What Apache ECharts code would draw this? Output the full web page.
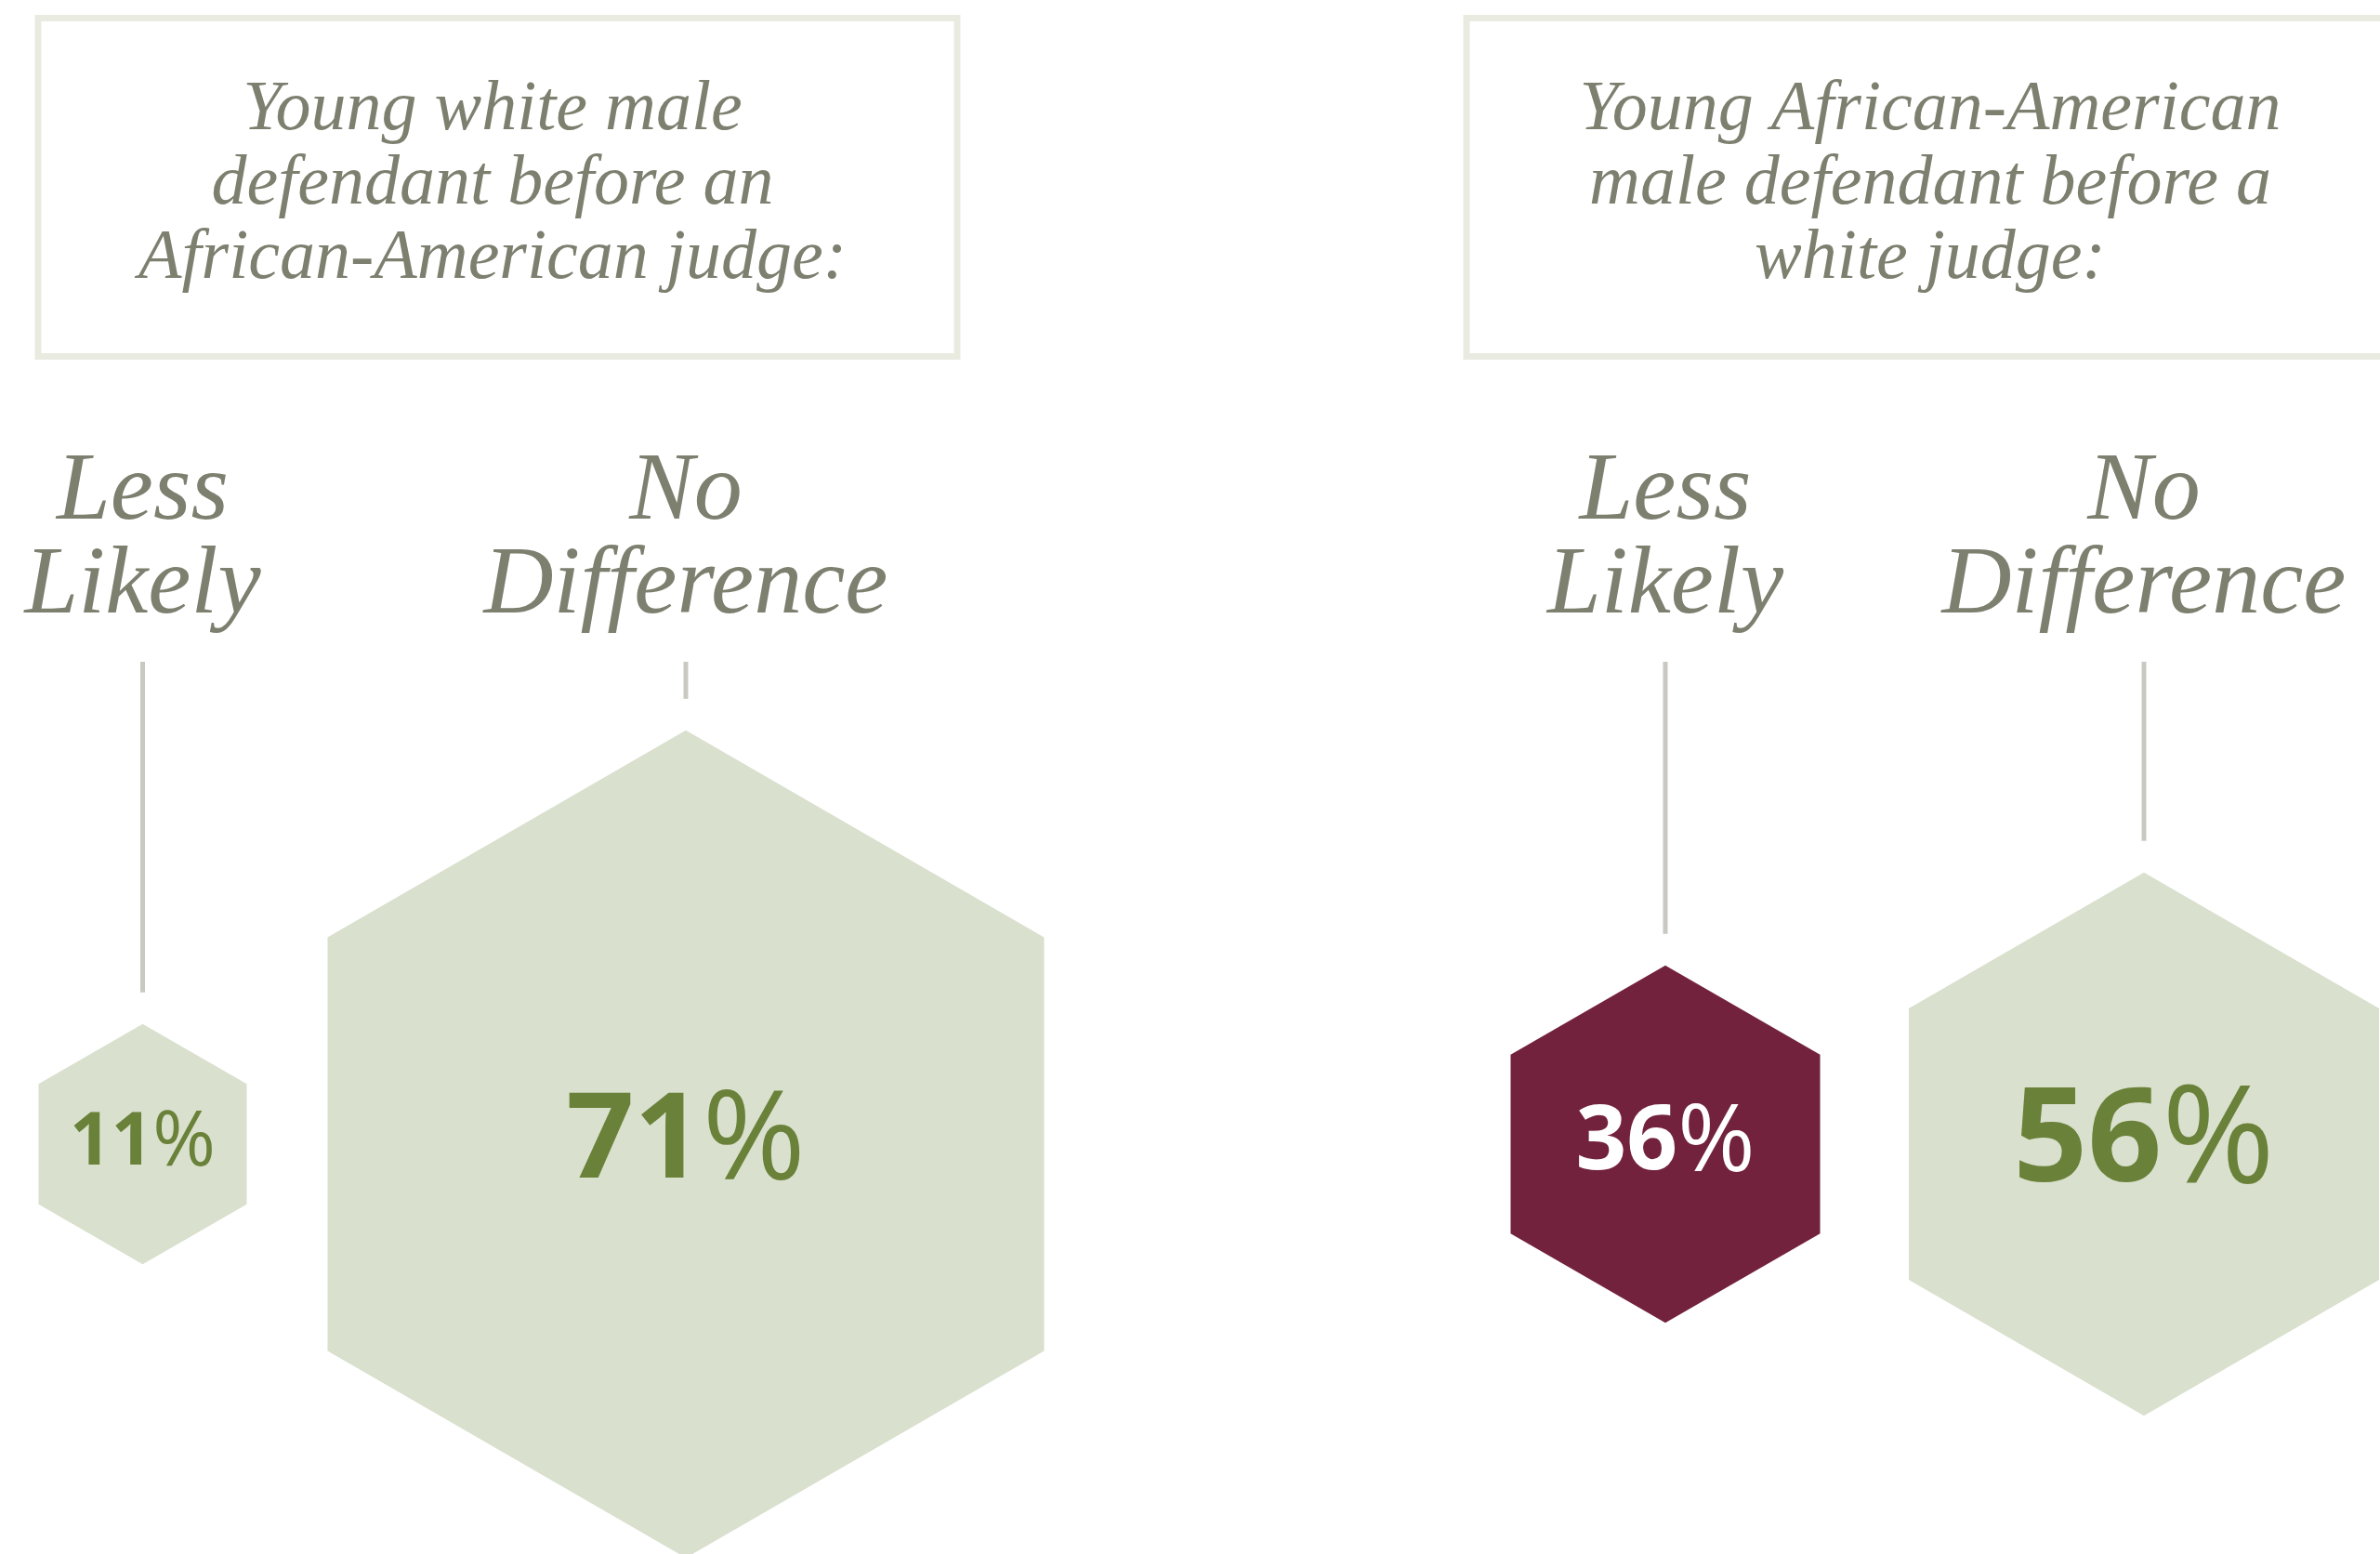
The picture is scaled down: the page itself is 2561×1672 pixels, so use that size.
<!DOCTYPE html>
<html>
<head>
<meta charset="utf-8">
<script src="https://cdn.jsdelivr.net/npm/echarts@6/dist/echarts.min.js"></script>
<style>
html,body{margin:0;padding:0;background:#ffffff;}
#chart{width:2561px;height:1672px;}
</style>
</head>
<body>
<div id="chart"></div>
<script>
// ---- data ----
const categories = ['Less Likely', 'No Difference'];
const panelTitles = [
  'Young white male\ndefendant before an\nAfrican-American judge:',
  'Young African-American\nmale defendant before a\nwhite judge:'
];
const whiteDefendantBlackJudge = [11, 71];
const blackDefendantWhiteJudge = [36, 56];
const highlighted = [[], [0]]; // index of the emphasised (dark) hexagon per panel

// ---- layout / style constants ----
const hexWidths = [[224, 771], [333, 506]];
const GRAY_TEXT = '#7d7f6f';
const HEX_FILL = '#d9e0cd';
const HEX_DARK = '#73223d';
const PCT_GREEN = '#6a8139';
const LINE_COLOR = '#c9c9c2';
const SERIF = '"Liberation Serif", "DejaVu Serif", serif';
const SANS = '"Open Sans", "Noto Sans", Lato, sans-serif';
const HEX_PATH = 'path://M50,0L100,25L100,75L50,100L0,75L0,25Z';
const LINE_TOP = 712;
const LINE_GAP = 34;
const pctSizes = [[78, 128], [96, 140]];

const panels = [whiteDefendantBlackJudge, blackDefendantWhiteJudge];
const grids = [
  { left: 153.5, width: 584.5, top: 790, height: 882 },
  { left: 1792, width: 515, top: 790, height: 882 }
];

const chart = echarts.init(document.getElementById('chart'), null, { renderer: 'canvas' });

const xAxes = grids.map((g, i) => ({
  type: 'category', gridIndex: i, data: categories, position: 'top', boundaryGap: false,
  axisLine: { show: false }, axisTick: { show: false }, splitLine: { show: false },
  axisLabel: {
    interval: 0, margin: 108, color: GRAY_TEXT, fontFamily: SERIF, fontStyle: 'italic',
    fontSize: 104, lineHeight: 101, align: 'center',
    formatter: v => v.replace(' ', '\n')
  }
}));
const yAxes = grids.map((g, i) => ({
  type: 'category', gridIndex: i, data: ['panel'], show: false
}));

const series = [];
panels.forEach((vals, p) => {
  series.push({
    type: 'scatter', xAxisIndex: p, yAxisIndex: p, symbol: HEX_PATH,
    symbolSize: (val, params) => { const w = hexWidths[p][params.dataIndex]; return [w, w * 2 / Math.sqrt(3)]; },
    data: vals.map((v, i) => {
      const dark = highlighted[p].includes(i);
      return {
        value: [categories[i], 'panel', v],
        itemStyle: { color: dark ? HEX_DARK : HEX_FILL, opacity: 1 },
        label: {
          show: true, position: 'inside',
          formatter: '{n|' + v + '}{p|%}',
          rich: {
            n: { fontFamily: SANS, fontWeight: 'bold', fontSize: pctSizes[p][i], color: dark ? '#ffffff' : PCT_GREEN },
            p: { fontFamily: SANS, fontWeight: 'normal', fontSize: pctSizes[p][i] * 1.05, color: dark ? '#ffffff' : PCT_GREEN }
          }
        }
      };
    }),
    emphasis: { disabled: true },
    silent: true, z: 3
  });
  series.push({
    type: 'custom', xAxisIndex: p, yAxisIndex: p, silent: true, z: 2,
    data: vals.map((v, i) => [categories[i], 'panel', v]),
    renderItem: (params, api) => {
      const c = api.coord([api.value(0), api.value(1)]);
      const w = hexWidths[p][params.dataIndex];
      const h = w * 2 / Math.sqrt(3);
      return {
        type: 'line',
        shape: { x1: c[0], y1: LINE_TOP, x2: c[0], y2: c[1] - h / 2 - LINE_GAP },
        style: { stroke: LINE_COLOR, lineWidth: 5 }
      };
    }
  });
});

chart.setOption({
  backgroundColor: '#ffffff',
  animation: false,
  title: [
    { text: panelTitles[0], left: 525, top: 74, textAlign: 'center',
      textStyle: { fontFamily: SERIF, fontStyle: 'italic', fontWeight: 'normal', fontSize: 76, lineHeight: 80, color: GRAY_TEXT } },
    { text: panelTitles[1], left: 2072, top: 74, textAlign: 'center',
      textStyle: { fontFamily: SERIF, fontStyle: 'italic', fontWeight: 'normal', fontSize: 76, lineHeight: 80, color: GRAY_TEXT } }
  ],
  graphic: [
    { type: 'rect', shape: { x: 41, y: 19.5, width: 989, height: 364 }, style: { fill: 'none', stroke: '#e9ebe1', lineWidth: 7 }, silent: true },
    { type: 'rect', shape: { x: 1578, y: 19.5, width: 1100, height: 364 }, style: { fill: 'none', stroke: '#e9ebe1', lineWidth: 7 }, silent: true }
  ],
  grid: grids,
  xAxis: xAxes,
  yAxis: yAxes,
  series: series
});
</script>
</body>
</html>
